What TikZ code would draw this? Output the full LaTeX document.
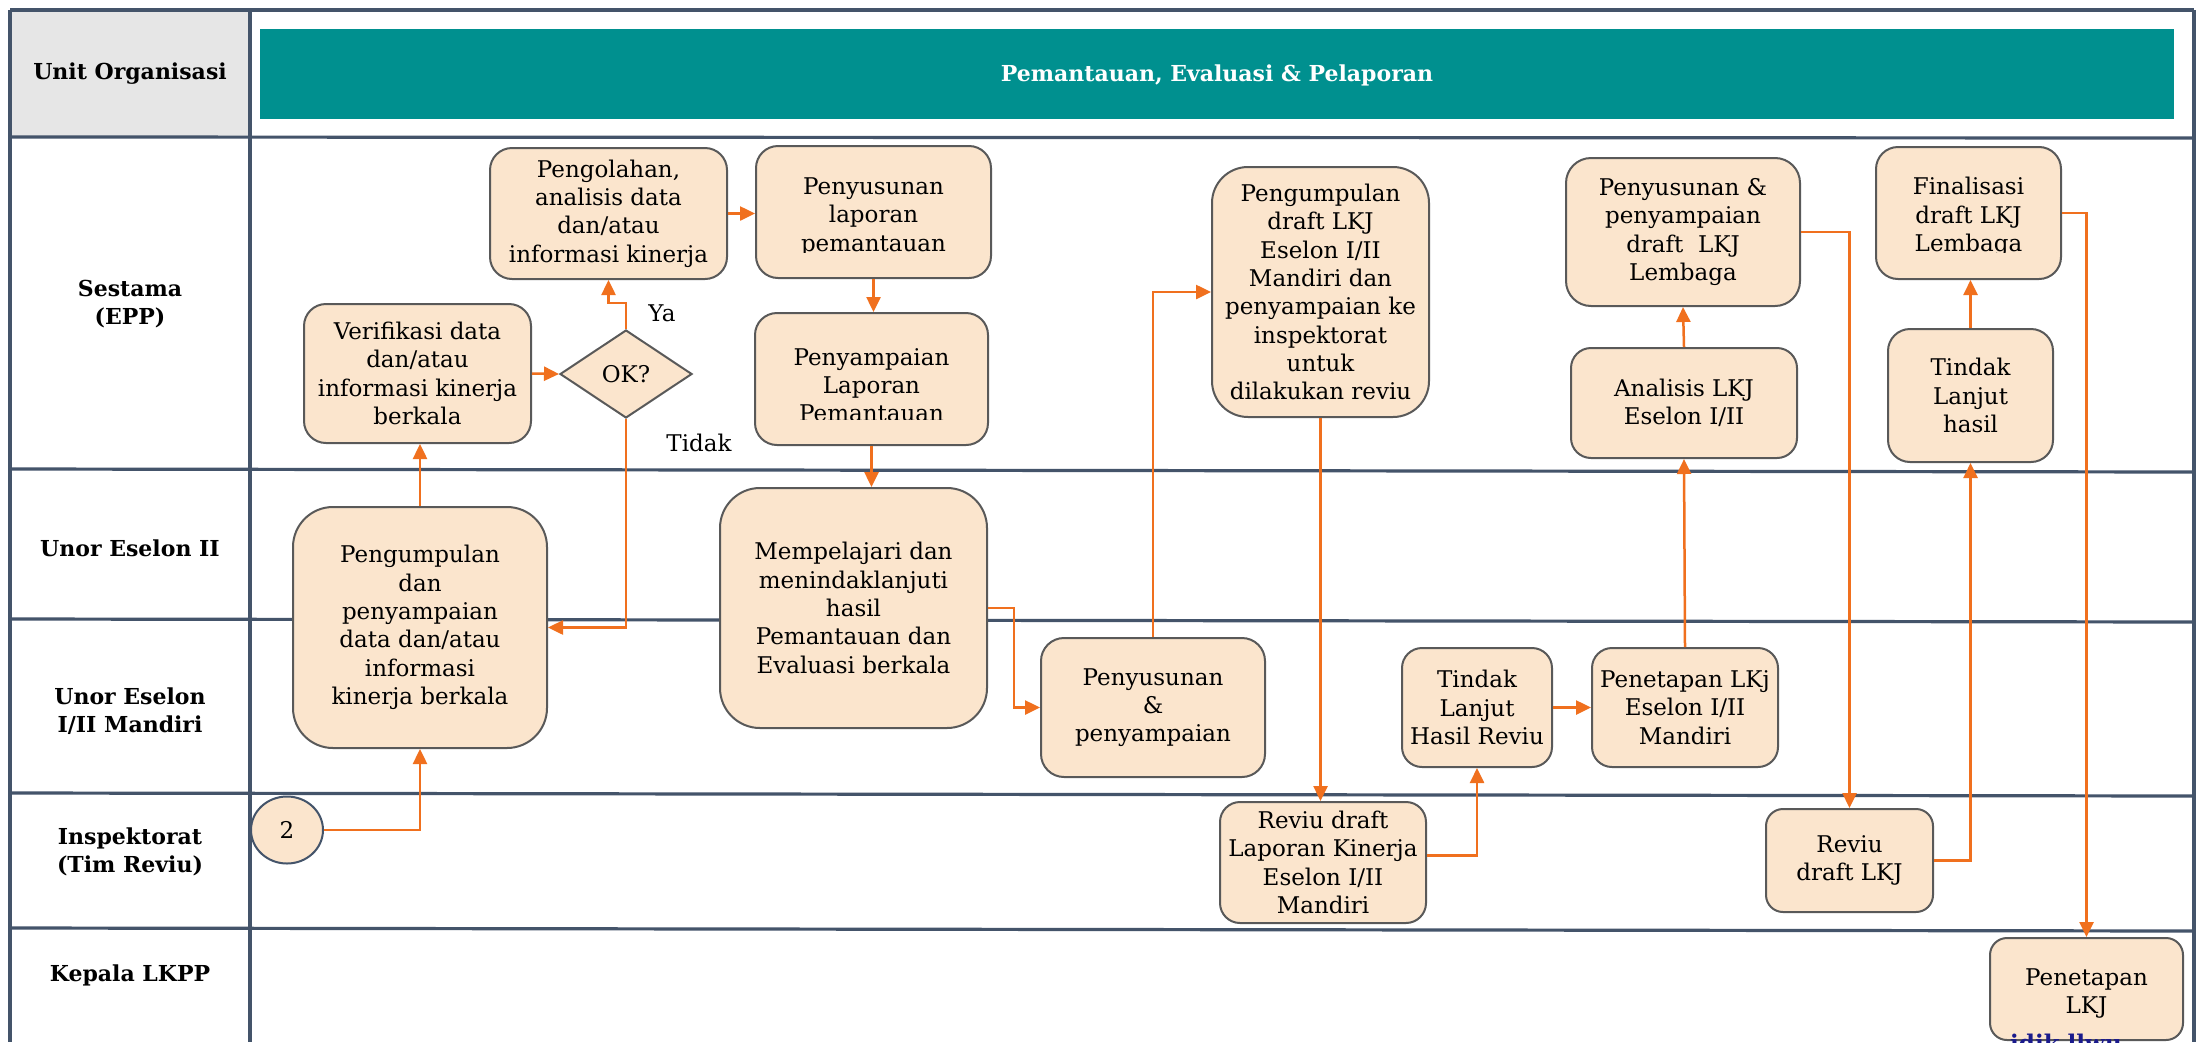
\documentclass[tikz,border=0pt]{standalone}
\usepackage{fontspec}
\setmainfont{DejaVu Serif}
\usetikzlibrary{arrows.meta,shapes.geometric}

\definecolor{lanegray}{HTML}{44546A}
\definecolor{cellgray}{HTML}{E6E6E6}
\definecolor{headteal}{HTML}{00908F}
\definecolor{boxfill}{HTML}{FBE5CD}
\definecolor{boxline}{HTML}{595959}
\definecolor{flow}{HTML}{F0701E}
\definecolor{inknavy}{HTML}{1A1A8C}

\newcommand\bodyfont{\fontsize{23}{28.3}\selectfont}
\newcommand\lblfont{\fontsize{22}{28.5}\selectfont\bfseries}

\begin{document}
\begin{tikzpicture}[x=1pt,y=-1pt,
  lane/.style={draw=lanegray,line width=3.2pt},
  box/.style={draw=boxline,fill=boxfill,line width=2pt,rounded corners=#1,
              align=center,inner sep=0pt,font=\bodyfont},
  box/.default=22pt,
  txt/.style={align=center,inner sep=0pt,font=\bodyfont},
  lbl/.style={align=center,inner sep=0pt,font=\lblfont},
  flowline/.style={draw=flow,line width=2.5pt,-{Triangle[length=15pt,width=14pt]}},
]
\useasboundingbox (0,0) rectangle (2200,1042);
\fill[white] (0,0) rectangle (2200,1042);

% header row
\fill[cellgray] (10,10) rectangle (250,137);
\fill[headteal] (260,29) rectangle (2174,119);
\node[lbl] (hdr) at (130,74) {Unit Organisasi};
\node[lbl,text=white] (title) at (1217,75) {Pemantauan, Evaluasi \& Pelaporan};

% swimlane grid
\draw[lane] (10,10) -- (2194,10);
\draw[lane] (10,137) -- (2194,138);
\draw[lane] (10,469) -- (2194,472);
\draw[lane] (10,619) -- (2194,622);
\draw[lane] (10,793) -- (2194,796);
\draw[lane] (10,928) -- (2194,931);
\draw[lane] (10,10) -- (10,1042);
\draw[lane] (250,10) -- (250,1042);
\draw[lane] (2194,10) -- (2194,1042);

% lane names
\node[lbl] (l1) at (130,304) {Sestama\\(EPP)};
\node[lbl] (l2) at (130,548) {Unor Eselon II};
\node[lbl] (l3) at (130,711) {Unor Eselon\\I/II Mandiri};
\node[lbl] (l4) at (130,852) {Inspektorat\\(Tim Reviu)};
\node[lbl] (l5) at (130,975) {Kepala LKPP};

% process boxes
\node[box=22pt,minimum width=237,minimum height=131] (peng) at (608.5,213.5)
  {Pengolahan,\\analisis data\\dan/atau\\informasi kinerja};
\node[box=22pt,minimum width=235,minimum height=132] (lap) at (873.5,212) {};
\node[box=22pt,minimum width=227,minimum height=139] (verif) at (417.5,373.5)
  {Verifikasi data\\dan/atau\\informasi kinerja\\berkala};
\node[diamond,draw=boxline,fill=boxfill,line width=2pt,inner sep=0pt,
      minimum width=132,minimum height=88,font=\bodyfont] (ok) at (626,374) {OK?};
\node[box=22pt,minimum width=233,minimum height=132] (penyL) at (871.5,379) {};
\node[box=36pt,minimum width=217,minimum height=250] (draft) at (1320.5,292)
  {Pengumpulan\\draft LKJ\\Eselon I/II\\Mandiri dan\\penyampaian ke\\inspektorat\\untuk\\dilakukan reviu};
\node[box=25pt,minimum width=234,minimum height=148] (pdl) at (1683,232)
  {Penyusunan \&\\penyampaian\\draft\ \ LKJ\\Lembaga};
\node[box=20pt,minimum width=226,minimum height=110] (anal) at (1684,403)
  {Analisis LKJ\\Eselon I/II};
\node[box=22pt,minimum width=185,minimum height=132] (fin) at (1968.5,213) {};
\node[box=22pt,minimum width=165,minimum height=133] (tl2) at (1970.5,395.5)
  {Tindak\\Lanjut\\hasil};
\node[box=40pt,minimum width=254,minimum height=241] (pk) at (420,627.5)
  {Pengumpulan\\dan\\penyampaian\\data dan/atau\\informasi\\kinerja berkala};
\node[box=40pt,minimum width=267,minimum height=240] (mem) at (853.5,608)
  {Mempelajari dan\\menindaklanjuti\\hasil\\Pemantauan dan\\Evaluasi berkala};
\node[box=23pt,minimum width=224,minimum height=139] (pp) at (1153,707.5)
  {Penyusunan\\\&\\penyampaian};
\node[box=20pt,minimum width=150,minimum height=119] (tl1) at (1477,707.5)
  {Tindak\\Lanjut\\Hasil Reviu};
\node[box=20pt,minimum width=186,minimum height=119] (pen1) at (1685,707.5)
  {Penetapan LKj\\Eselon I/II\\Mandiri};
\node[box=20pt,minimum width=206,minimum height=121] (rev1) at (1323,862.5)
  {Reviu draft\\Laporan Kinerja\\Eselon I/II\\Mandiri};
\node[box=17pt,minimum width=167,minimum height=103] (rdl) at (1849.5,860.5)
  {Reviu\\draft LKJ};
\node[box=17pt,minimum width=193,minimum height=102] (penL) at (2086.5,989) {};
\node[ellipse,draw=lanegray,fill=boxfill,line width=2pt,inner sep=0pt,
      minimum width=72,minimum height=67,font=\bodyfont] (c2) at (287,830) {2};

% connectors
\draw[flowline] (c2.east) -| (pk.south);
\draw[flowline] (pk.north) -- (pk.north |- verif.south);
\draw[flowline] (verif.east) -- (ok.west);
\draw[flowline] (ok.north) -- ++(0,-26) -| (peng.south);
\draw[flowline] (ok.south) |- (pk.east);
\draw[flowline] (peng.east) -- (peng.east -| lap.west);
\draw[flowline] (lap.south) -- (lap.south |- penyL.north);
\draw[flowline] (penyL.south) -- (penyL.south |- mem.north);
\draw[flowline] (mem.east) -- ++(26,0) |- (pp.west);
\draw[flowline] (pp.north) |- (draft.west);
\draw[flowline] (draft.south) -- (draft.south |- rev1.north);
\draw[flowline] ([yshift=7pt]rev1.east) -| (tl1.south);
\draw[flowline] (tl1.east) -- (pen1.west);
\draw[flowline] (pen1.north) -- (anal.south);
\draw[flowline] (anal.north) -- (pdl.south);
\draw[flowline] (pdl.east) -| (rdl.north);
\draw[flowline] (rdl.east) -| (tl2.south);
\draw[flowline] (tl2.north) -- (tl2.north |- fin.south);
\draw[flowline] (fin.east) -| (penL.north);

% texts cut off at the lower edge of their frames
\begin{scope}
  \clip (lap.north west) rectangle ([yshift=27pt]lap.south east);
  \node[txt] (laptxt) at ([yshift=-5pt]lap.center) {Penyusunan\\laporan\\pemantauan};
\end{scope}
\begin{scope}
  \clip (penyL.north west) rectangle ([yshift=27pt]penyL.south east);
  \node[txt] (penyLtxt) at ([yshift=-6pt]penyL.center) {Penyampaian\\Laporan\\Pemantauan};
\end{scope}
\begin{scope}
  \clip (fin.north west) rectangle ([yshift=28pt]fin.south east);
  \node[txt] (fintxt) at ([yshift=-4pt]fin.center) {Finalisasi\\draft LKJ\\Lembaga};
\end{scope}
\node[txt] (penLtxt) at ([yshift=-4.5pt]penL.center) {Penetapan\\LKJ};
\node[anchor=base west,inner sep=0pt,text=inknavy,font=\fontsize{23}{28}\selectfont\bfseries]
  (note) at (2010,1051) {idik llwu};

% decision labels
\node[txt] (ya) at (662,313) {Ya};
\node[txt] (tidak) at (699,443) {Tidak};
\end{tikzpicture}
\end{document}
